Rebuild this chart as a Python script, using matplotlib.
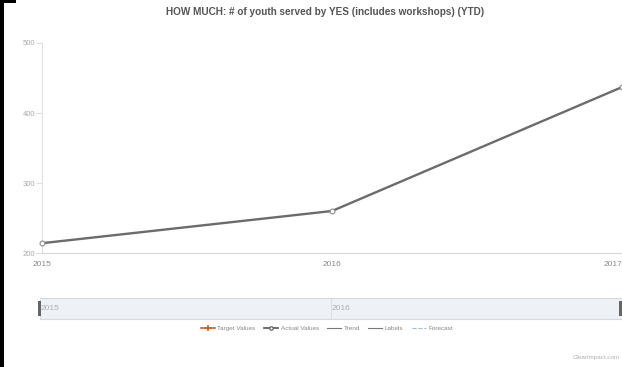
import matplotlib
matplotlib.use("Agg")
import matplotlib.pyplot as plt
from matplotlib.lines import Line2D
from matplotlib.patches import Rectangle
from matplotlib import font_manager

years = [2015, 2016, 2017]
youth_served = [214, 260, 437]
y_ticks = [200, 300, 400, 500]
title = "HOW MUCH: # of youth served by YES (includes workshops) (YTD)"

names = {f.name for f in font_manager.fontManager.ttflist}
narrow = "Liberation Sans Narrow" if "Liberation Sans Narrow" in names else "Liberation Sans"
plt.rcParams["font.family"] = [narrow, "DejaVu Sans"]

W, H = 622, 367
fig = plt.figure(figsize=(W / 100, H / 100), dpi=100)
fig.patch.set_facecolor("white")

def box(x0, y0, x1, y1):
    # pixel box (top-left origin) -> figure fraction rect
    return [x0 / W, 1 - y1 / H, (x1 - x0) / W, (y1 - y0) / H]

# main chart
ax = fig.add_axes(box(42, 43, 622, 253))
ax.plot(years, youth_served, color="#6b6b6b", lw=1.7, marker="o", ms=3.5,
        mfc="white", mec="#8a8a8a", mew=0.8, zorder=3, clip_on=False)
ax.set_xlim(2015, 2017)
ax.set_ylim(200, 500)
ax.set_yticks(y_ticks)
ax.set_xticks(years)
ax.set_xticklabels([str(y) for y in years])
for s in ["top", "right"]:
    ax.spines[s].set_visible(False)
ax.spines["left"].set_color("#e2e2e2")
ax.spines["bottom"].set_color("#d8d8d8")
ax.tick_params(axis="y", colors="#e0e0e0", labelcolor="#a8a8a8", labelsize=5.5,
               length=4, width=0.8, pad=1)
ax.tick_params(axis="x", length=0, labelcolor="#8a8a8a", labelsize=6, pad=6)
ax.get_xticklabels()[-1].set_ha("right")

fig.text(325 / W, 1 - 12 / H, title, ha="center", va="center",
         fontsize=7.2, fontweight="bold", color="#555555")

# range navigator
nav = fig.add_axes(box(40, 298, 622, 319))
nav.set_xlim(2015, 2017)
nav.set_ylim(0, 1)
nav.set_facecolor("#eef1f6")
for s in nav.spines.values():
    s.set_color("#d5d9e0")
    s.set_linewidth(0.8)
nav.set_xticks([])
nav.set_yticks([])
nav.axvline(2016, color="#dde1e8", lw=0.8)
nav.text(2015.003, 0.5, "2015", ha="left", va="center", fontsize=6, color="#b0b0b0")
nav.text(2016.003, 0.5, "2016", ha="left", va="center", fontsize=6, color="#b0b0b0")
for px in (38, 619):
    fig.patches.append(Rectangle((px / W, 1 - 316 / H), 3 / W, 15 / H,
                                 transform=fig.transFigure, facecolor="#666666",
                                 edgecolor="none"))

# legend row
handles = [
    Line2D([], [], color="#c0622a", lw=1.2, marker="+", ms=4, mew=1.2),
    Line2D([], [], color="#555555", lw=1.2, marker="o", ms=2.5, mfc="white", mew=0.8),
    Line2D([], [], color="#777777", lw=0.8),
    Line2D([], [], color="#777777", lw=0.8),
    Line2D([], [], color="#a9b8d8", lw=0.8, ls="--"),
]
labels = ["Target Values", "Actual Values", "Trend", "Labels", "Forecast"]
leg = fig.legend(handles, labels, loc="center", bbox_to_anchor=(327 / W, 1 - 328 / H),
                 ncol=5, frameon=False, fontsize=4.6, handlelength=2.2,
                 handletextpad=0.4, columnspacing=1.3)
for t in leg.get_texts():
    t.set_color("#888888")

fig.text(620 / W, 1 - 357 / H, "ClearImpact.com", ha="right", va="center",
         fontsize=4.5, color="#b0b0b0")

# black frame pieces along the left and top-left edge
fig.patches.append(Rectangle((0, 0), 4 / W, 1, transform=fig.transFigure,
                             facecolor="black", edgecolor="none"))
fig.patches.append(Rectangle((0, 1 - 3 / H), 16 / W, 3 / H, transform=fig.transFigure,
                             facecolor="black", edgecolor="none"))

fig.savefig("out.png", dpi=100)
